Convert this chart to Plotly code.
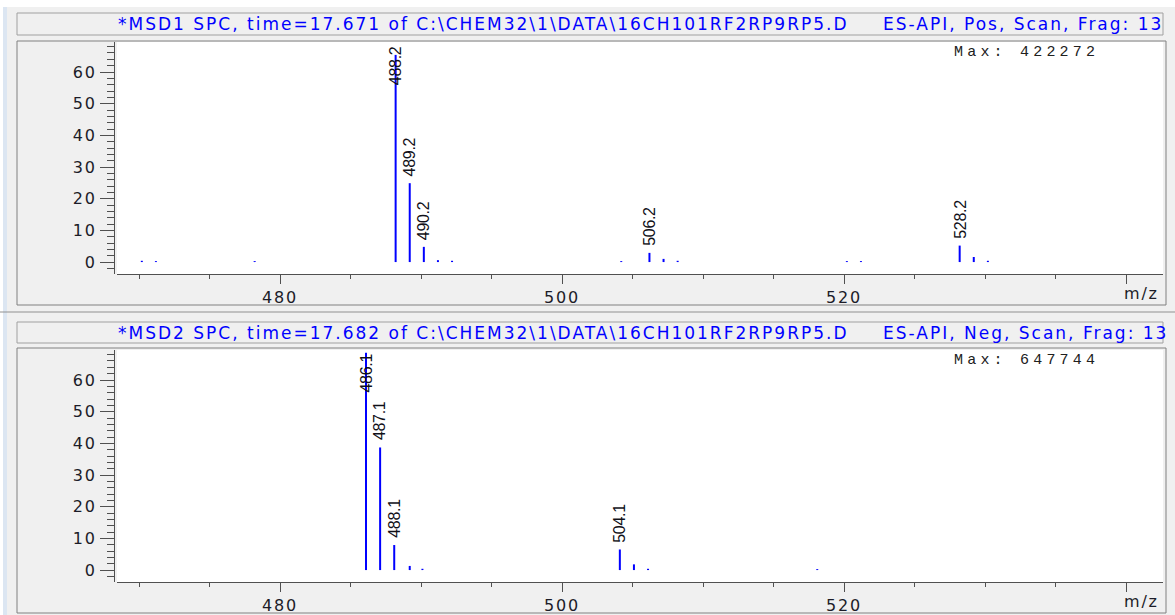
import plotly.graph_objects as go

W, H = 1175, 615

# ---- spectrum data ----
pos_mz = [470.2, 471.2, 478.2, 488.2, 489.2, 490.2, 491.2, 492.2, 504.2,
          506.2, 507.2, 508.2, 520.2, 521.2, 528.2, 529.2, 530.2]
pos_int = [0.4, 0.3, 0.3, 65.4, 24.9, 4.8, 0.6, 0.4, 0.3,
           2.9, 1.0, 0.4, 0.3, 0.3, 5.2, 1.6, 0.4]
pos_labels = ["488.2", "489.2", "490.2", "506.2", "528.2"]

neg_mz = [486.1, 487.1, 488.1, 489.2, 490.1, 504.1, 505.1, 506.1, 518.1]
neg_int = [68.6, 38.7, 7.9, 1.3, 0.4, 6.5, 1.8, 0.4, 0.3]
neg_labels = ["486.1", "487.1", "488.1", "504.1"]

pos_title = r"*MSD1 SPC, time=17.671 of C:\CHEM32\1\DATA\16CH101RF2RP9RP5.D"
neg_title = r"*MSD2 SPC, time=17.682 of C:\CHEM32\1\DATA\16CH101RF2RP9RP5.D"
pos_mode = "ES-API, Pos, Scan, Frag: 13"
neg_mode = "ES-API, Neg, Scan, Frag: 13"
pos_max = "Max: 422272"
neg_max = "Max: 647744"

x_ticks = [480, 500, 520, 540]
x_ticktext = ["480", "500", "520", ""]
y_ticks = [0, 10, 20, 30, 40, 50, 60]

X_RANGE = [468.44, 542.62]
Y_RANGE = [-3.77, 69.47]

BLUE = "#0000ff"
AXC = "#505050"
TXT = "#1c1c28"


def px(x):
    return x / W


def py(y):
    return 1 - y / H


def spaced(s, sp):
    return f'<span style="letter-spacing:{sp}px">{s}</span>'


def stems(mz, inten):
    xs, ys = [], []
    for m, v in zip(mz, inten):
        xs += [m, m, None]
        ys += [0, v, None]
    return xs, ys


fig = go.Figure()

panels = [
    dict(mz=pos_mz, it=pos_int, labels=pos_labels, title=pos_title, mode=pos_mode,
         mx=pos_max, top=42, bot=274, tb=(13, 35), frame=(41, 305), xa="x", ya="y"),
    dict(mz=neg_mz, it=neg_int, labels=neg_labels, title=neg_title, mode=neg_mode,
         mx=neg_max, top=350, bot=582, tb=(322, 343), frame=(348, 613), xa="x2", ya="y2"),
]

annotations = []
shapes = []
for i, p in enumerate(panels):
    xs, ys = stems(p["mz"], p["it"])
    fig.add_trace(go.Scatter(x=xs, y=ys, mode="lines", xaxis=p["xa"], yaxis=p["ya"],
                             line=dict(color=BLUE, width=2), hoverinfo="skip",
                             showlegend=False))
    sfx = "" if i == 0 else "2"
    fig.update_layout(**{
        "xaxis" + sfx: dict(domain=[px(117), px(1163)], range=X_RANGE, anchor="y" + sfx,
                            showline=True, linecolor=AXC, linewidth=1, ticks="outside",
                            ticklen=9, tickcolor=AXC, tickwidth=1,
                            tickvals=x_ticks,
                            ticktext=[spaced(t, 1.8) for t in x_ticktext],
                            tickfont=dict(family="DejaVu Sans", size=16, color=TXT),
                            minor=dict(tickvals=list(range(470, 545, 5)), ticks="outside",
                                       ticklen=4, tickcolor=AXC, showgrid=False),
                            showgrid=False, zeroline=False, fixedrange=True),
        "yaxis" + sfx: dict(domain=[py(p["bot"]), py(p["top"])], range=Y_RANGE,
                            anchor="free", position=px(114),
                            showline=True, linecolor=AXC, linewidth=1, ticks="outside",
                            ticklen=14, tickcolor=AXC, tickwidth=1,
                            tickvals=y_ticks,
                            ticktext=[spaced(str(t), 1.8) for t in y_ticks],
                            tickfont=dict(family="DejaVu Sans", size=16, color=TXT),
                            minor=dict(tickvals=list(range(-2, 70, 2)), ticks="outside",
                                       ticklen=7, tickcolor=AXC, showgrid=False),
                            showgrid=False, zeroline=False, fixedrange=True),
    })

    # peak labels
    for lab in p["labels"]:
        m = float(lab)
        v = p["it"][p["mz"].index(m)]
        if v > 53:
            ann = dict(y=Y_RANGE[1], yanchor="top", yshift=-2)
        else:
            ann = dict(y=v, yanchor="bottom", yshift=5)
        ann.update(x=m, xref=p["xa"], yref=p["ya"], text=spaced(lab, -0.3), textangle=-90,
                   showarrow=False, xanchor="center",
                   font=dict(family="Liberation Sans", size=16, color="#101018"))
        annotations.append(ann)

    # header bar text
    tcy = py((p["tb"][0] + p["tb"][1]) / 2)
    annotations.append(dict(xref="paper", yref="paper", x=px(116), y=tcy,
                            xanchor="left", yanchor="middle", showarrow=False,
                            text=spaced(p["title"], 2.0),
                            font=dict(family="DejaVu Sans", size=17, color=BLUE)))
    annotations.append(dict(xref="paper", yref="paper", x=px(881), y=tcy,
                            xanchor="left", yanchor="middle", showarrow=False,
                            text=spaced(p["mode"], 2.0),
                            font=dict(family="DejaVu Sans", size=17, color=BLUE)))
    # max intensity
    annotations.append(dict(xref="paper", yref="paper", x=px(952), y=py(p["top"] + 10),
                            xanchor="left", yanchor="middle", showarrow=False,
                            text=spaced(p["mx"], 4.2),
                            font=dict(family="Liberation Mono", size=15, color="#202020")))
    # axis unit
    annotations.append(dict(xref="paper", yref="paper", x=px(1122), y=py(p["bot"] + 19),
                            xanchor="left", yanchor="middle", showarrow=False,
                            text=spaced("m/z", 1.8),
                            font=dict(family="DejaVu Sans", size=16, color=TXT)))

    # header bar frame
    t0, t1 = p["tb"]
    shapes.append(dict(type="rect", xref="paper", yref="paper", x0=px(17), x1=px(1163),
                       y0=py(t1), y1=py(t0), line=dict(color="#a0a0a0", width=1),
                       fillcolor="rgba(0,0,0,0)", layer="below"))
    # plot frame
    f0, f1 = p["frame"]
    shapes.append(dict(type="rect", xref="paper", yref="paper", x0=px(17), x1=px(1166),
                       y0=py(f1), y1=py(f0), line=dict(color="#808080", width=1),
                       fillcolor="rgba(0,0,0,0)", layer="below"))

# separator between the two windows
shapes.append(dict(type="line", xref="paper", yref="paper", x0=0, x1=1,
                   y0=py(312), y1=py(312), line=dict(color="#909090", width=1)))
# left window edge
shapes.append(dict(type="rect", xref="paper", yref="paper", x0=0, x1=px(3),
                   y0=0, y1=1, line=dict(width=0), fillcolor="#ffffff", layer="below"))
shapes.append(dict(type="rect", xref="paper", yref="paper", x0=px(3), x1=px(7),
                   y0=0, y1=py(7), line=dict(width=0), fillcolor="#dce6f2", layer="below"))
shapes.append(dict(type="rect", xref="paper", yref="paper", x0=0, x1=1,
                   y0=py(7), y1=1, line=dict(width=0), fillcolor="#ffffff", layer="below"))

fig.update_layout(width=W, height=H, margin=dict(l=0, r=0, t=0, b=0),
                  paper_bgcolor="#f0f0f0", plot_bgcolor="#ffffff",
                  annotations=annotations, shapes=shapes, showlegend=False)

fig.write_html("out.html", config={"displayModeBar": False})
